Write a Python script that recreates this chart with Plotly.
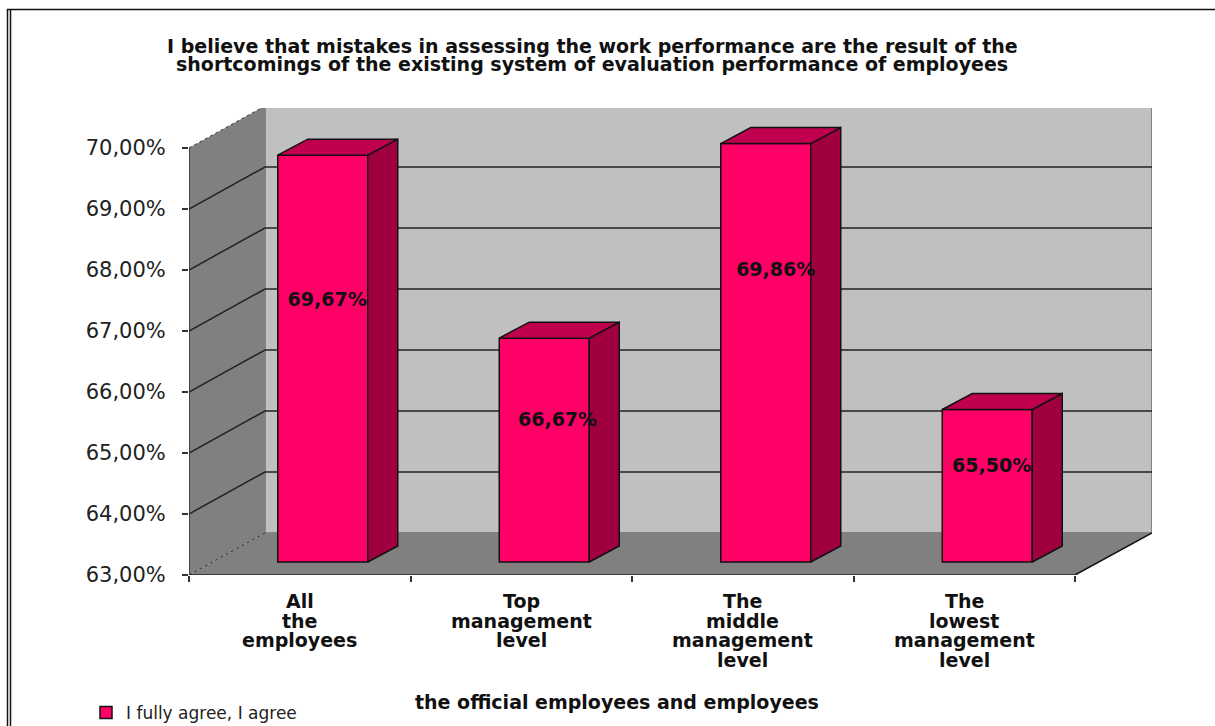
import plotly.graph_objects as go

categories = ["All<br>the<br>employees", "Top<br>management<br>level",
              "The<br>middle<br>management<br>level", "The<br>lowest<br>management<br>level"]
values = [69.67, 66.67, 69.86, 65.50]
y_ticks = [63, 64, 65, 66, 67, 68, 69, 70]
title_lines = ["I believe that mistakes in assessing the work performance are the result of the",
               "shortcomings of the existing system of evaluation performance of employees"]
x_title = "the official employees and employees"
series_name = "I fully agree, I agree"
label_levels = [67.49, 65.52, 67.98, 64.77]
label_shift = [0.02, 0.06, 0.045, 0.02]

W, H = 1215, 726
L, R, T, B = 189, 1152, 108, 575
SLOT = 221.5
UNIT = 61.0
n = len(categories)
x_max = (R - L) / SLOT
y_max = 63 + (B - T) / UNIT
WALL_DX, WALL_DY = 76 / SLOT, 42 / UNIT
BAR_DX, BAR_DY = 23 / SLOT, 13 / UNIT
SIDE_DX, SIDE_DY = 30 / SLOT, 16 / UNIT
BAR_W = 90 / SLOT
FRONT, TOP, SIDE = "#FF0066", "#C0004E", "#A00040"
WALL, FLOOR = "#C0C0C0", "#808080"
FAM = "DejaVu Sans"


def px(x):
    return (x - L) / (R - L)


def py(y):
    return (B - y) / (B - T)


def poly(pts):
    return "M" + " L".join(f"{a},{b}" for a, b in pts) + " Z"


shapes = [
    dict(type="path", path=poly([(WALL_DX, 63 + WALL_DY), (x_max, 63 + WALL_DY), (x_max, 70 + WALL_DY), (WALL_DX, 70 + WALL_DY)]),
         fillcolor=WALL, line=dict(color="#707070", width=1.5), layer="below"),
    dict(type="path", path=poly([(0, 63), (WALL_DX, 63 + WALL_DY), (WALL_DX, 70 + WALL_DY), (0, 70)]),
         fillcolor=FLOOR, line=dict(width=0), layer="below"),
    dict(type="path", path=poly([(0, 63), (WALL_DX, 63 + WALL_DY), (x_max, 63 + WALL_DY), (n, 63)]),
         fillcolor=FLOOR, line=dict(width=0), layer="below"),
]
for v in y_ticks[1:-1]:
    shapes.append(dict(type="path", path=f"M0,{v} L{WALL_DX},{v + WALL_DY} L{x_max},{v + WALL_DY}",
                       line=dict(color="#222222", width=1.5), layer="below"))
shapes += [
    dict(type="line", x0=0, y0=70, x1=WALL_DX, y1=70 + WALL_DY, line=dict(color="#333333", width=1, dash="dot"), layer="below"),
    dict(type="line", x0=0, y0=63, x1=WALL_DX, y1=63 + WALL_DY, line=dict(color="#333333", width=1, dash="dot"), layer="below"),
    dict(type="line", x0=0, y0=63, x1=0, y1=70, line=dict(color="#333333", width=1.5), layer="below"),
    dict(type="line", x0=0, y0=63, x1=n, y1=63, line=dict(color="#222222", width=1.5), layer="below"),
    dict(type="line", x0=n, y0=63, x1=x_max, y1=63 + WALL_DY, line=dict(color="#111111", width=1.5), layer="below"),
]
# page frame
shapes += [
    dict(type="line", xref="paper", yref="paper", x0=px(7.5), x1=px(7.5), y0=py(9), y1=py(726), line=dict(color="#111111", width=1.5)),
    dict(type="line", xref="paper", yref="paper", x0=px(10.5), x1=px(10.5), y0=py(10), y1=py(726), line=dict(color="#111111", width=1.5)),
    dict(type="line", xref="paper", yref="paper", x0=px(7), x1=px(1215), y0=py(9.5), y1=py(9.5), line=dict(color="#111111", width=1.5)),
]

fig = go.Figure()
centers = [i + 0.5 + BAR_DX for i in range(n)]
fig.add_trace(go.Bar(
    x=centers, y=[v - 63 for v in values], base=63 + BAR_DY, width=BAR_W,
    name=series_name, marker=dict(color=FRONT, line=dict(color="#111111", width=1.5)),
    hoverinfo="skip", showlegend=True))
for c, v in zip(centers, values):
    left, right = c - BAR_W / 2, c + BAR_W / 2
    base, top = 63 + BAR_DY, v + BAR_DY
    fig.add_trace(go.Scatter(
        x=[right, right + SIDE_DX, right + SIDE_DX, right, right],
        y=[base, base + SIDE_DY, top + SIDE_DY, top, base],
        mode="lines", fill="toself", fillcolor=SIDE, line=dict(color="#111111", width=1.5),
        hoverinfo="skip", showlegend=False))
    fig.add_trace(go.Scatter(
        x=[left, left + SIDE_DX, right + SIDE_DX, right, left],
        y=[top, top + SIDE_DY, top + SIDE_DY, top, top],
        mode="lines", fill="toself", fillcolor=TOP, line=dict(color="#111111", width=1.5),
        hoverinfo="skip", showlegend=False))
fig.add_trace(go.Scatter(
    x=[c + s for c, s in zip(centers, label_shift)], y=label_levels, mode="text",
    text=[f"{v:.2f}%".replace(".", ",") for v in values],
    textfont=dict(family=FAM, size=19, weight="bold", color="#111111"), textposition="middle center",
    hoverinfo="skip", showlegend=False))

annotations = []
for k, line in enumerate(title_lines):
    annotations.append(dict(xref="paper", yref="paper", x=px(592), y=py(46 + 18 * k), text=line, showarrow=False,
                            font=dict(family=FAM, size=19, weight="bold", color="#111111"), xanchor="center", yanchor="middle"))
for i, cat in enumerate(categories):
    for k, line in enumerate(cat.split("<br>")):
        annotations.append(dict(xref="x", yref="paper", x=i + 0.5, y=py(601 + 19.5 * k), text=line, showarrow=False,
                                font=dict(family=FAM, size=19, weight="bold", color="#111111"), xanchor="center", yanchor="middle"))
annotations.append(dict(xref="paper", yref="paper", x=px(617), y=py(702), text=x_title, showarrow=False,
                        font=dict(family=FAM, size=19, weight="bold", color="#111111"), xanchor="center", yanchor="middle"))

fig.update_layout(
    width=W, height=H, margin=dict(l=L, r=W - R, t=T, b=H - B, autoexpand=False),
    paper_bgcolor="white", plot_bgcolor="white", shapes=shapes, annotations=annotations,
    xaxis=dict(range=[0, x_max], tickvals=list(range(n + 1)), ticktext=[""] * (n + 1), ticks="outside", ticklen=6,
               tickcolor="#333333", tickwidth=1.5, showgrid=False, zeroline=False, showline=False, fixedrange=True),
    yaxis=dict(range=[63, y_max], tickvals=y_ticks, ticktext=[f"{v},00%" for v in y_ticks], ticks="outside", ticklen=6,
               tickcolor="#333333", tickwidth=1.5, showgrid=False, zeroline=False, showline=False, fixedrange=True,
               tickfont=dict(family=FAM, size=21, color="#222222"), ticklabelstandoff=12),
    legend=dict(x=px(86), y=py(713), xanchor="left", yanchor="middle", bgcolor="rgba(0,0,0,0)",
                font=dict(family=FAM, size=17, color="#222222"), itemwidth=30),
    showlegend=True, barmode="overlay",
)
fig.write_html("out.html", config=dict(displayModeBar=False), post_script="document.body.style.margin='0';")
